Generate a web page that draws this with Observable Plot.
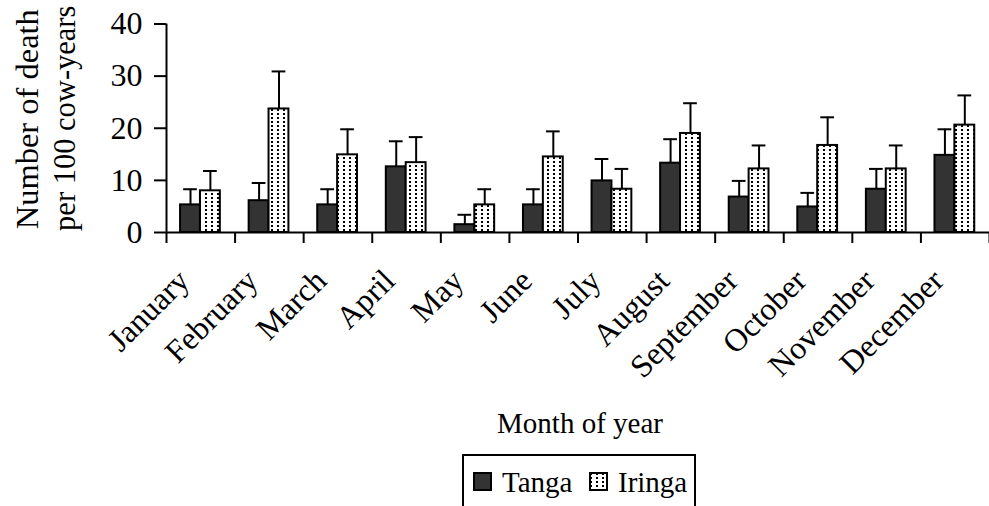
<!DOCTYPE html>
<html>
<head>
<meta charset="utf-8">
<script src="https://cdn.jsdelivr.net/npm/d3@7"></script>
<script src="https://cdn.jsdelivr.net/npm/@observablehq/plot@0.6"></script>
<style>
  body { margin: 0; background: #fff; font-family: "Liberation Serif", "Times New Roman", serif; }
  #wrap { position: relative; width: 989px; height: 506px; overflow: hidden; background: #fff; }
  #legend { position: absolute; left: 462px; top: 454px; width: 234px; height: 80px; border: 2px solid #000; box-sizing: border-box; background: #fff; }
  .sw { position: absolute; top: 16px; }
  .lt { position: absolute; top: 10px; font-size: 29px; line-height: 32px; color: #000; white-space: nowrap; }
</style>
</head>
<body>
<div id="wrap">
  <div id="chart"></div>
  <div id="legend"></div>
</div>
<script>
const months = ["January","February","March","April","May","June","July","August","September","October","November","December"];
const seriesNames = ["Tanga", "Iringa"];
const tangaValues = [5.3, 6.1, 5.3, 12.6, 1.5, 5.3, 9.9, 13.3, 6.8, 4.9, 8.3, 14.8];
const tangaErrors = [3.0, 3.4, 3.0, 4.9, 1.9, 3.0, 4.2, 4.6, 3.1, 2.7, 3.9, 5.0];
const iringaValues = [8.0, 23.7, 14.9, 13.4, 5.3, 14.5, 8.3, 19.0, 12.2, 16.7, 12.2, 20.6];
const iringaErrors = [3.8, 7.2, 4.9, 4.9, 3.0, 4.9, 3.9, 5.8, 4.5, 5.4, 4.5, 5.7];
const yTicks = [0, 10, 20, 30, 40];
const xTitle = "Month of year";
const yTitleLine1 = "Number of death";
const yTitleLine2 = "per 100 cow-years";

// layout of the two bars inside each month slot (in slot units)
const slot = {Tanga: [0.205, 0.495], Iringa: [0.495, 0.785]};
const capHalf = 0.1;

const rows = [];
months.forEach((m, i) => {
  rows.push({month: m, i, series: "Tanga", value: tangaValues[i], err: tangaErrors[i]});
  rows.push({month: m, i, series: "Iringa", value: iringaValues[i], err: iringaErrors[i]});
});
const x1 = d => d.i + slot[d.series][0];
const x2 = d => d.i + slot[d.series][1];
const xc = d => d.i + (slot[d.series][0] + slot[d.series][1]) / 2;
const fillOf = d => d.series === "Tanga" ? "#333333" : "url(#dotsPattern)";

const font = '"Liberation Serif", "Times New Roman", serif';

const chart = Plot.plot({
  width: 989,
  height: 448,
  marginLeft: 166,
  marginRight: 0,
  marginTop: 23.5,
  marginBottom: 216,
  style: {fontFamily: font, background: "#fff", color: "#000", overflow: "visible"},
  x: {domain: [0, months.length], axis: null},
  y: {domain: [0, 40], axis: null},
  marks: [
    Plot.rectY(rows, {x1, x2, y1: 0, y2: "value", fill: fillOf, stroke: "#000", strokeWidth: 2}),
    Plot.ruleX(rows, {x: xc, y1: "value", y2: d => d.value + d.err, stroke: "#000", strokeWidth: 2}),
    Plot.ruleY(rows, {y: d => d.value + d.err, x1: d => xc(d) - capHalf, x2: d => xc(d) + capHalf, stroke: "#000", strokeWidth: 2}),
    Plot.axisY({ticks: yTicks, tickSize: 12, tickPadding: 12, fontSize: 32, strokeWidth: 2, label: null, fill: "#000"}),
    Plot.ruleX([0], {y1: 0, y2: 40, stroke: "#000", strokeWidth: 2}),
    Plot.axisX({ticks: d3.range(0, months.length + 1), tickSize: 11, tickFormat: () => "", strokeWidth: 2, label: null}),
    Plot.ruleY([0], {stroke: "#000", strokeWidth: 2}),
    Plot.text(months, {x: (d, i) => i + 0.5, frameAnchor: "bottom", rotate: -45, textAnchor: "end", lineAnchor: "middle", dx: -17, dy: 43, fontSize: 32, fill: "#000"}),
    Plot.text([xTitle], {frameAnchor: "bottom", textAnchor: "middle", dx: 2, dy: 191, fontSize: 29, lineAnchor: "middle", fill: "#000"}),
    Plot.text([yTitleLine1], {frameAnchor: "left", textAnchor: "middle", rotate: -90, dx: -129, dy: -9, fontSize: 32.5, lineAnchor: "bottom", fill: "#000"}),
    Plot.text([yTitleLine2], {frameAnchor: "left", textAnchor: "middle", rotate: -90, dx: -92, dy: -10, fontSize: 30.5, lineAnchor: "bottom", fill: "#000"})
  ]
});

// dotted pattern definition for Iringa bars
const defs = d3.select(chart).insert("defs", ":first-child");
const pat = defs.append("pattern").attr("id", "dotsPattern").attr("patternUnits", "userSpaceOnUse")
  .attr("width", 6).attr("height", 4);
pat.append("rect").attr("width", 6).attr("height", 4).attr("fill", "#fff");
pat.append("rect").attr("x", 1).attr("y", 1).attr("width", 2).attr("height", 2).attr("fill", "#000");
document.getElementById("chart").appendChild(chart);

// legend
const legend = document.getElementById("legend");
const swatchPositions = {Tanga: 9, Iringa: 125};
const textPositions = {Tanga: 38, Iringa: 154};
seriesNames.forEach(name => {
  const s = document.createElementNS("http://www.w3.org/2000/svg", "svg");
  s.setAttribute("width", 19); s.setAttribute("height", 19);
  s.setAttribute("class", "sw");
  s.style.left = swatchPositions[name] + "px";
  if (name === "Tanga") {
    s.innerHTML = '<rect x="1" y="1" width="17" height="17" fill="#333333" stroke="#000" stroke-width="2"/>';
  } else {
    s.innerHTML = '<defs><pattern id="legDots" patternUnits="userSpaceOnUse" width="6" height="4"><rect width="6" height="4" fill="#fff"/><rect x="1" y="1" width="2" height="2" fill="#000"/></pattern></defs><rect x="1" y="1" width="17" height="17" fill="url(#legDots)" stroke="#000" stroke-width="2"/>';
  }
  legend.appendChild(s);
  const t = document.createElement("div");
  t.className = "lt";
  t.style.left = textPositions[name] + "px";
  t.textContent = name;
  legend.appendChild(t);
});
</script>
</body>
</html>
